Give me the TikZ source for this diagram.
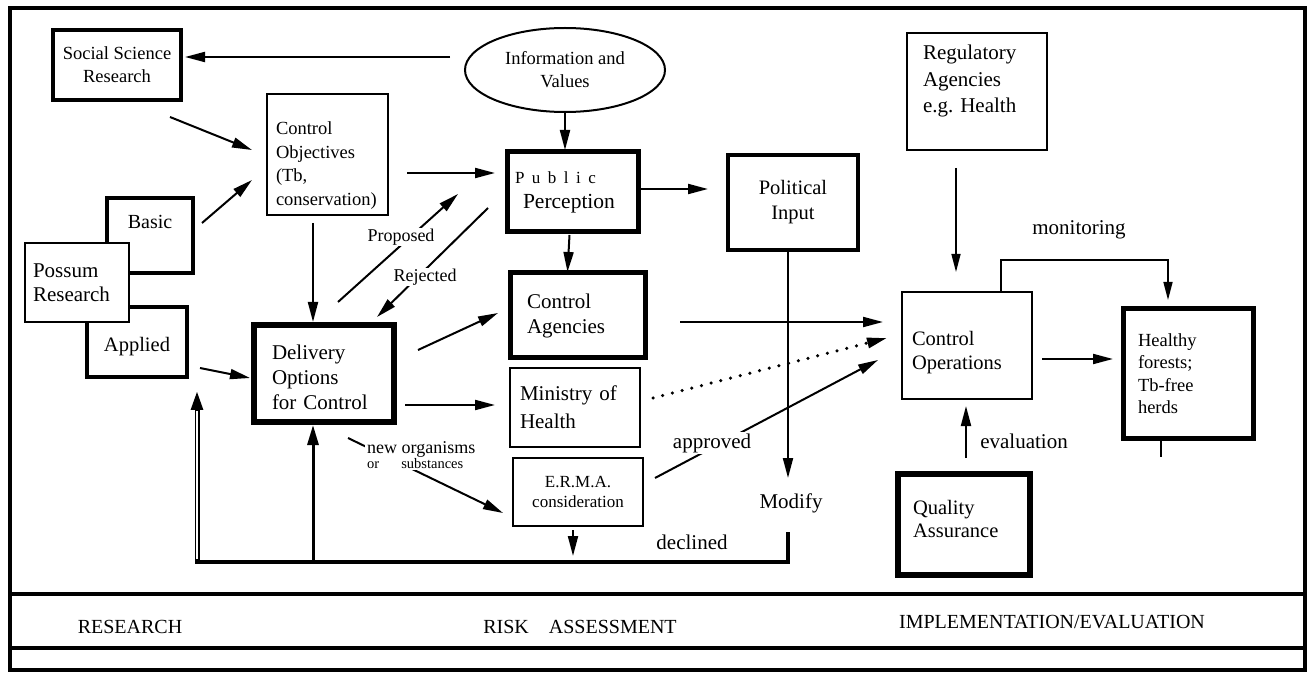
\documentclass[tikz,border=0pt]{standalone}
\usepackage{fontspec}
\setmainfont{Liberation Serif}
\usetikzlibrary{arrows.meta,shapes.geometric}
\newcommand{\myfs}[2]{\fontsize{#1}{#2}\selectfont}
\begin{document}
\begin{tikzpicture}[x=1pt,y=-1pt,
  bx/.style={draw, rectangle, inner sep=0pt, outer sep=0pt, line width=2pt, fill=white},
  thk/.style={bx, line width=4.5pt},
  lt/.style={align=left, inner xsep=#1},
  arr/.style={line width=2pt, -{Triangle[length=20pt,width=10pt]}},
  thinarr/.style={line width=1.5pt, -{Triangle[length=18pt,width=9pt]}},
  lbl/.style={inner sep=1pt, fill=white},
  fb/.style={line width=3.5pt},
]
\useasboundingbox (0,0) rectangle (1310,676);

% frame
\draw[line width=3.5pt] (10,8) rectangle (1305,670);
\draw[line width=3.5pt] (10,594) -- (1305,594);
\draw[line width=3.5pt] (10,648) -- (1305,648);

% research boxes (behind)
\node[thk, line width=4pt, minimum width=86, minimum height=75, align=center, font=\myfs{20}{24}] (basic) at (150,235.5) {Basic\rule[-27pt]{0pt}{27pt}};
\node[thk, line width=4pt, minimum width=100, minimum height=70, align=center, font=\myfs{20.5}{24}] (applied) at (137,342) {\rule{0pt}{24pt}Applied};
\node[bx, minimum width=104, minimum height=79, lt=8pt, text width=88pt, font=\myfs{21}{24}] (possum) at (77,282.5) {Possum\\Research};

\node[thk, line width=4pt, minimum width=128, minimum height=70, align=center, font=\myfs{18.5}{23}] (social) at (117,65) {Social Science\\Research};
\node[bx, minimum width=121, minimum height=121, lt=9pt, text width=103pt, font=\myfs{18.5}{23.5}] (ctrlobj) at (327.5,154.5) {\rule{0pt}{35pt}Control\\Objectives\\(Tb,\\conservation)};
\node[thk, line width=6.5pt, minimum width=140, minimum height=97, lt=18pt, text width=104pt, font=\myfs{21}{25}] (deliv) at (324,373.5) {\rule{0pt}{23pt}Delivery\\Options\\for Control};

\node[draw, ellipse, line width=2pt, inner sep=0pt, outer sep=0pt, minimum width=200, minimum height=84, align=center, font=\myfs{18.5}{23}] (infov) at (565,70) {Information and\\Values};

\node[thk, line width=5pt, minimum width=131, minimum height=80, lt=8pt, text width=115pt, font=\myfs{21.5}{25}] (pp) at (572.5,192) {{\myfs{17}{20}\spaceskip=7.5pt P u b l i c}\\\hspace*{8pt}Perception};
\node[thk, minimum width=130, minimum height=95, align=center, font=\myfs{20.5}{25}] (pol) at (793,202.5) {Political\\Input};
\node[thk, line width=5pt, minimum width=135, minimum height=85, lt=17pt, text width=101pt, font=\myfs{21}{25}] (ctrlag) at (577.5,315.5) {Control\\Agencies};
\node[bx, line width=2.5pt, minimum width=130, minimum height=79, lt=10pt, text width=110pt, font=\myfs{21}{28}] (ministry) at (575,407.5) {Ministry of\\Health};
\node[bx, minimum width=130, minimum height=68, align=center, font=\myfs{17}{19.5}] (erma) at (578,492) {E.R.M.A.\\consideration};

\node[bx, minimum width=140, minimum height=117, lt=16pt, text width=108pt, font=\myfs{21}{26.5}] (regul) at (977,91.5) {Regulatory\\Agencies\\e.g.\ Health\rule[-25pt]{0pt}{25pt}};
\node[bx, line width=2.5pt, minimum width=130, minimum height=107, lt=10pt, text width=110pt, font=\myfs{20.5}{24}] (ctrlops) at (967,345.5) {\rule{0pt}{28pt}Control\\Operations};
\node[thk, line width=5pt, minimum width=130, minimum height=129, lt=15pt, text width=100pt, font=\myfs{18.5}{22.5}] (healthy) at (1188,373.5) {Healthy\\forests;\\Tb-free\\herds};
\node[thk, line width=5.5pt, minimum width=132, minimum height=101, lt=15pt, text width=102pt, font=\myfs{20.5}{23}] (quality) at (964,524.5) {Quality\\Assurance\rule[-12pt]{0pt}{12pt}};

% labels
\node[font=\myfs{21}{24}, inner sep=0pt] (modify) at (791,503) {Modify};
\node[font=\myfs{21}{24}, inner sep=0pt] (declined) at (692,542) {declined};
\node[font=\myfs{21}{24}, inner sep=0pt] (monitoring) at (1079,230) {monitoring};
\node[font=\myfs{21}{24}, inner sep=0pt] (evaluation) at (1024,441) {evaluation};

% connectors
\draw[arr] ([shift={(-15,-13)}]infov.west) -- ([shift={(4,-8)}]social.east);
\draw[arr] ([shift={(-11,17)}]social.south east) -- ([shift={(-15,-4.5)}]ctrlobj.west);
\draw[arr] ([shift={(9,-12.5)}]basic.east) -- ([shift={(-15,25.5)}]ctrlobj.west);
\draw[arr] ([shift={(19,18.5)}]ctrlobj.east) -- ([shift={(-12,-19)}]pp.west);
\draw[arr, shorten >=2pt] (infov.south) -- (pp.north -| infov.south);
\draw[arr] ([shift={(2,-3)}]pp.east) -- ([shift={(-20,-13.5)}]pol.west);
\draw[arr] ([shift={(-3,3)}]pp.south) -- ([shift={(-10,-1)}]ctrlag.north);
\draw[arr] ([shift={(-14.5,8)}]ctrlobj.south) -- ([shift={(-11,-3)}]deliv.north);
\draw[arr] ([shift={(14,-23)}]deliv.north) -- ([shift={(-49,2)}]pp.west);
\draw[arr] ([shift={(-19,16)}]pp.west) -- ([shift={(53,-8)}]deliv.north);
\draw[arr] ([shift={(13,26)}]applied.east) -- ([shift={(-4,4.5)}]deliv.west);
\draw[arr] ([shift={(24,-23.5)}]deliv.east) -- ([shift={(-12,-2.5)}]ctrlag.west);
\draw[arr] ([shift={(11,31.5)}]deliv.east) -- ([shift={(-15,-2.5)}]ministry.west);
\draw[arr] ([shift={(24,16)}]deliv.south) -- ([shift={(-10,21)}]erma.west);
\coordinate (ermatip) at (573,556);
\draw[arr] ([shift={(-5,4)}]erma.south) -- (ermatip);
\draw[arr] ([xshift=-5pt]pol.south) -- ([shift={(-3,-25)}]modify.center);

% feedback line
\coordinate (fbL) at (195,562);
\coordinate (fbA) at (197,562);
\coordinate (fbAtip) at (197,390);
\coordinate (fbB) at (313,562);
\draw[fb] ([shift={(-3,29)}]modify.center) |- (fbL);
\draw[line width=5pt, -{Triangle[length=20pt,width=11pt]}] (fbA) -- (fbAtip);
\draw[white, line width=1.8pt, shorten <=3pt, shorten >=21pt] (fbA) -- (fbAtip);
\draw[line width=3pt, -{Triangle[length=20pt,width=11pt]}] (fbB) -- ([shift={(-11,3)}]deliv.south);

\draw[arr] ([shift={(35,6.5)}]ctrlag.east) -- ([shift={(-19,-23.5)}]ctrlops.west);
\draw[line width=3.5pt, dash pattern=on 0pt off 10pt, line cap=round, -{Triangle[length=20pt,width=10pt]}] ([shift={(13,-9.5)}]ministry.east) -- ([shift={(-15,-7.5)}]ctrlops.west);
\draw[arr] ([shift={(12,-14)}]erma.east) -- ([shift={(-24,14.5)}]ctrlops.west);
\draw[thinarr] ([shift={(-21,18)}]regul.south) -- ([shift={(-11,-20)}]ctrlops.north);
\draw[thinarr] ([xshift=34pt]ctrlops.north) -- ++(0,-32) -| ([shift={(-20,-9)}]healthy.north);
\draw[arr] ([shift={(10,13.5)}]ctrlops.east) -- ([shift={(-10,-14.5)}]healthy.west);
\draw[line width=2pt] ([xshift=-27pt]healthy.south) -- ++(0,19);
\draw[arr] ([shift={(2,-16)}]quality.north) -- ([shift={(-1,7)}]ctrlops.south);

% labels on lines
\node[lbl, font=\myfs{18}{20}] (proposed) at (401,237) {Proposed};
\node[lbl, font=\myfs{18}{20}] (rejected) at (425,277) {Rejected};
\node[lbl, anchor=north west, align=left, inner sep=2pt] (neworg) at (365,439) {{\myfs{18}{17}new organisms}\\{\myfs{14.5}{17}or\hspace{22pt}substances}};
\node[lbl, font=\myfs{21}{24}] (approved) at (712,443) {approved};

% bottom phase labels
\node[font=\myfs{20}{24}] (research) at (130,627) {RESEARCH};
\node[font=\myfs{20}{24}] (risk) at (580,627) {RISK\hspace{20pt}ASSESSMENT};
\node[font=\myfs{20}{24}] (impl) at (1052,622) {IMPLEMENTATION/EVALUATION};
\end{tikzpicture}
\end{document}
